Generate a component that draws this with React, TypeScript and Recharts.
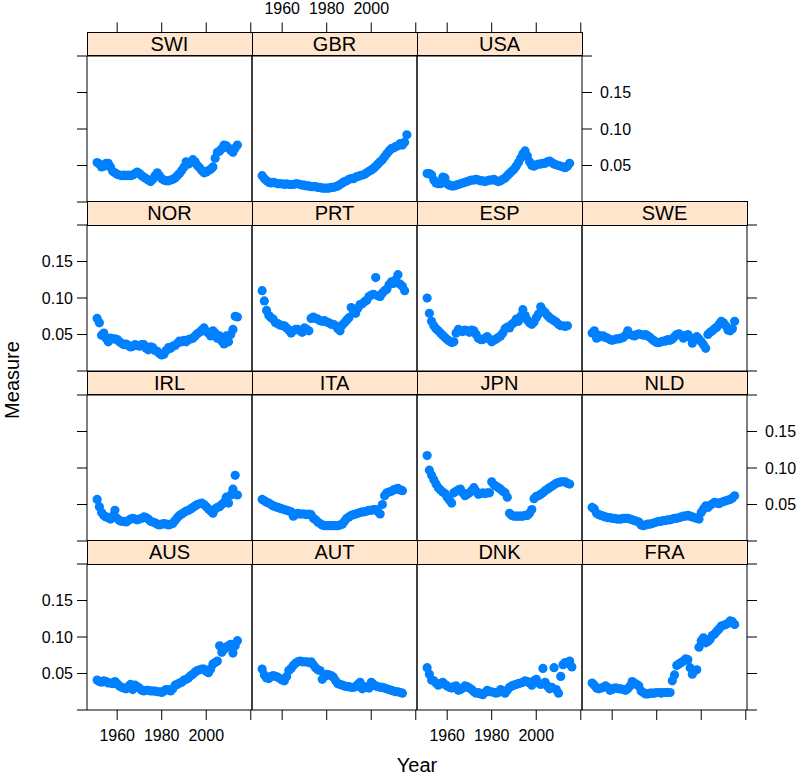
import React from "react";
import { ScatterChart, Scatter, XAxis, YAxis } from "recharts";

// years on the x axis; each country's values start at 1951
const YEARS = [
  1951, 1952, 1953, 1954, 1955, 1956, 1957, 1958, 1959, 1960,
  1961, 1962, 1963, 1964, 1965, 1966, 1967, 1968, 1969, 1970,
  1971, 1972, 1973, 1974, 1975, 1976, 1977, 1978, 1979, 1980,
  1981, 1982, 1983, 1984, 1985, 1986, 1987, 1988, 1989, 1990,
  1991, 1992, 1993, 1994, 1995, 1996, 1997, 1998, 1999, 2000,
  2001, 2002, 2003, 2004, 2005, 2006, 2007, 2008, 2009, 2010,
  2011, 2012, 2013, 2014, 2015, 2016,
];

const SWI = [
  0.054, 0.052, 0.048, 0.049, 0.053, 0.053, 0.048, 0.042, 0.040, 0.038,
  0.037, 0.036, 0.037, 0.036, 0.037, 0.036, 0.037, 0.039, 0.041, 0.039,
  0.036, 0.034, 0.032, 0.030, 0.028, 0.031, 0.036, 0.040, 0.036, 0.032,
  0.030, 0.029, 0.029, 0.030, 0.031, 0.033, 0.036, 0.039, 0.043, 0.048,
  0.055, 0.052, 0.054, 0.058, 0.055, 0.050, 0.047, 0.043, 0.040, 0.041,
  0.043, 0.045, 0.048, 0.060, 0.068, 0.070, 0.073, 0.078, 0.077, 0.074,
  0.071, 0.068, 0.074, 0.078,
];
const GBR = [
  0.036, 0.032, 0.029, 0.027, 0.026, 0.027, 0.026, 0.025, 0.025, 0.025,
  0.024, 0.025, 0.024, 0.024, 0.024, 0.025, 0.025, 0.024, 0.023, 0.023,
  0.022, 0.022, 0.021, 0.021, 0.021, 0.020, 0.020, 0.019, 0.019, 0.019,
  0.019, 0.020, 0.020, 0.021, 0.022, 0.024, 0.026, 0.028, 0.029, 0.031,
  0.032, 0.032, 0.034, 0.035, 0.036, 0.037, 0.038, 0.040, 0.042, 0.044,
  0.046, 0.049, 0.052, 0.055, 0.058, 0.062, 0.066, 0.070, 0.073, 0.074,
  0.076, 0.077, 0.080, 0.078, 0.082, 0.092,
];
const USA = [
  0.039, 0.039, 0.037, 0.030, 0.026, 0.025, 0.025, 0.034, 0.033, 0.025,
  0.023, 0.022, 0.022, 0.023, 0.024, 0.025, 0.026, 0.027, 0.028, 0.029,
  0.030, 0.030, 0.031, 0.030, 0.029, 0.029, 0.028, 0.029, 0.030, 0.030,
  0.031, 0.029, 0.028, 0.029, 0.031, 0.033, 0.036, 0.039, 0.042, 0.045,
  0.049, 0.054, 0.060, 0.066, 0.070, 0.063, 0.055, 0.050, 0.049, 0.051,
  0.052, 0.052, 0.053, 0.053, 0.055, 0.056, 0.054, 0.052, 0.051, 0.050,
  0.049, 0.048, 0.047, 0.049, 0.053,
];
const NOR = [
  0.072, 0.066, 0.049, 0.052, 0.045, 0.040, 0.045, 0.044, 0.044, 0.043,
  0.040, 0.038, 0.036, 0.037, 0.035, 0.033, 0.034, 0.036, 0.035, 0.034,
  0.036, 0.036, 0.031, 0.029, 0.033, 0.032, 0.028, 0.027, 0.024, 0.022,
  0.023, 0.028, 0.032, 0.031, 0.034, 0.035, 0.038, 0.041, 0.040, 0.042,
  0.040, 0.043, 0.044, 0.045, 0.048, 0.051, 0.053, 0.056, 0.059, 0.054,
  0.052, 0.048, 0.055, 0.052, 0.045, 0.048, 0.041, 0.037, 0.048, 0.040,
  0.050, 0.057, 0.075, 0.074,
];
const PRT = [
  0.110, 0.096, 0.083, 0.076, 0.073, 0.071, 0.066, 0.065, 0.063, 0.062,
  0.062, 0.059, 0.056, 0.052, 0.055, 0.057, 0.057, 0.055, 0.053, 0.059,
  0.057, 0.055, 0.072, 0.074, 0.072, 0.071, 0.069, 0.068, 0.069, 0.067,
  0.066, 0.064, 0.064, 0.062, 0.058, 0.055, 0.063, 0.066, 0.070, 0.073,
  0.087, 0.080, 0.079, 0.086, 0.091, 0.092, 0.095, 0.097, 0.102, 0.104,
  0.105, 0.128, 0.103, 0.102, 0.107, 0.110, 0.112, 0.118, 0.122, 0.120,
  0.125, 0.132, 0.119, 0.116, 0.110,
];
const ESP = [
  0.100, 0.079, 0.068, 0.062, 0.058, 0.055, 0.052, 0.049, 0.046, 0.043,
  0.041, 0.039, 0.040, 0.052, 0.057, 0.055, 0.054, 0.056, 0.055, 0.053,
  0.056, 0.055, 0.050, 0.045, 0.043, 0.043, 0.045, 0.047, 0.044, 0.040,
  0.042, 0.044, 0.046, 0.048, 0.052, 0.058, 0.060, 0.059, 0.064, 0.066,
  0.071, 0.068, 0.075, 0.084, 0.076, 0.070, 0.066, 0.064, 0.067, 0.073,
  0.078, 0.088, 0.083, 0.080, 0.076, 0.073, 0.071, 0.069, 0.067, 0.064,
  0.062, 0.062, 0.061, 0.062,
];
const SWE = [
  0.052, 0.055, 0.045, 0.049, 0.047, 0.048, 0.046, 0.045, 0.043, 0.042,
  0.043, 0.044, 0.044, 0.045, 0.046, 0.049, 0.055, 0.050, 0.049, 0.048,
  0.050, 0.051, 0.050, 0.049, 0.050, 0.048, 0.046, 0.043, 0.041, 0.039,
  0.039, 0.040, 0.041, 0.041, 0.043, 0.042, 0.044, 0.047, 0.050, 0.051,
  0.049, 0.045, 0.048, 0.050, 0.046, 0.038, 0.043, 0.047, 0.044, 0.040,
  0.036, 0.031, 0.050, 0.053, 0.055, 0.058, 0.060, 0.064, 0.068, 0.066,
  0.062, 0.056, 0.055, 0.058, 0.068,
];
const IRL = [
  0.057, 0.047, 0.039, 0.035, 0.033, 0.032, 0.030, 0.034, 0.042, 0.031,
  0.028, 0.027, 0.027, 0.026, 0.028, 0.030, 0.031, 0.030, 0.029, 0.030,
  0.031, 0.033, 0.032, 0.030, 0.027, 0.026, 0.025, 0.023, 0.022, 0.023,
  0.024, 0.023, 0.022, 0.023, 0.024, 0.028, 0.032, 0.035, 0.037, 0.039,
  0.041, 0.042, 0.044, 0.046, 0.048, 0.050, 0.051, 0.052, 0.050, 0.047,
  0.044, 0.041, 0.038, 0.044, 0.046, 0.047, 0.050, 0.053, 0.060, 0.052,
  0.063, 0.071, 0.090, 0.063,
];
const ITA = [
  0.057, 0.055, 0.053, 0.052, 0.050, 0.048, 0.047, 0.046, 0.045, 0.044,
  0.043, 0.042, 0.041, 0.040, 0.034, 0.036, 0.038, 0.037, 0.037, 0.037,
  0.036, 0.037, 0.036, 0.031, 0.029, 0.026, 0.024, 0.022, 0.021, 0.021,
  0.021, 0.021, 0.021, 0.021, 0.021, 0.022, 0.023, 0.027, 0.031, 0.033,
  0.035, 0.036, 0.037, 0.038, 0.039, 0.040, 0.040, 0.041, 0.042, 0.042,
  0.043, 0.043, 0.040, 0.037, 0.050, 0.062, 0.066, 0.067, 0.068, 0.070,
  0.071, 0.072, 0.070, 0.069,
];
const JPN = [
  0.117, 0.097, 0.090, 0.084, 0.078, 0.073, 0.070, 0.067, 0.065, 0.060,
  0.056, 0.052, 0.066, 0.068, 0.070, 0.071, 0.066, 0.062, 0.064, 0.066,
  0.069, 0.073, 0.068, 0.064, 0.065, 0.066, 0.065, 0.066, 0.066, 0.081,
  0.077, 0.075, 0.073, 0.071, 0.068, 0.066, 0.060, 0.038, 0.035, 0.034,
  0.034, 0.034, 0.034, 0.034, 0.035, 0.035, 0.038, 0.043, 0.058, 0.061,
  0.062, 0.064, 0.066, 0.069, 0.071, 0.073, 0.075, 0.077, 0.079, 0.080,
  0.081, 0.081, 0.081, 0.079, 0.078,
];
const NLD = [
  0.046, 0.044, 0.038, 0.036, 0.035, 0.034, 0.033, 0.032, 0.032, 0.031,
  0.031, 0.030, 0.030, 0.030, 0.031, 0.031, 0.031, 0.030, 0.029, 0.028,
  0.027, 0.026, 0.022, 0.021, 0.022, 0.023, 0.023, 0.024, 0.025, 0.026,
  0.027, 0.027, 0.028, 0.028, 0.029, 0.029, 0.030, 0.031, 0.031, 0.032,
  0.033, 0.034, 0.034, 0.035, 0.034, 0.033, 0.032, 0.031, 0.030, 0.039,
  0.044, 0.048, 0.046, 0.049, 0.051, 0.053, 0.052, 0.051, 0.053, 0.054,
  0.055, 0.056, 0.057, 0.059, 0.062,
];
const AUS = [
  0.041, 0.039, 0.038, 0.040, 0.039, 0.037, 0.037, 0.036, 0.039, 0.036,
  0.033, 0.031, 0.030, 0.029, 0.032, 0.035, 0.028, 0.034, 0.032, 0.030,
  0.027, 0.026, 0.027, 0.027, 0.026, 0.026, 0.026, 0.025, 0.025, 0.024,
  0.026, 0.028, 0.028, 0.026, 0.029, 0.034, 0.035, 0.037, 0.038, 0.041,
  0.042, 0.044, 0.047, 0.049, 0.052, 0.054, 0.055, 0.056, 0.056, 0.053,
  0.051, 0.056, 0.063, 0.065, 0.067, 0.088, 0.079, 0.083, 0.086, 0.088,
  0.090, 0.078, 0.088, 0.095,
];
const AUT = [
  0.056, 0.048, 0.044, 0.043, 0.046, 0.047, 0.046, 0.045, 0.043, 0.041,
  0.040, 0.046, 0.054, 0.057, 0.061, 0.064, 0.066, 0.067, 0.066, 0.066,
  0.066, 0.065, 0.066, 0.062, 0.058, 0.055, 0.054, 0.042, 0.046, 0.049,
  0.048, 0.047, 0.045, 0.040, 0.036, 0.035, 0.034, 0.033, 0.032, 0.032,
  0.031, 0.031, 0.032, 0.035, 0.038, 0.029, 0.032, 0.031, 0.030, 0.038,
  0.035, 0.033, 0.032, 0.031, 0.031, 0.030, 0.029, 0.028, 0.027, 0.026,
  0.025, 0.025, 0.024, 0.023,
];
const DNK = [
  0.058, 0.049, 0.041, 0.040, 0.037, 0.034, 0.036, 0.038, 0.035, 0.033,
  0.031, 0.030, 0.032, 0.033, 0.027, 0.028, 0.030, 0.033, 0.032, 0.030,
  0.028, 0.025, 0.023, 0.024, 0.022, 0.021, 0.024, 0.027, 0.025, 0.025,
  0.024, 0.023, 0.024, 0.028, 0.026, 0.023, 0.027, 0.031, 0.033, 0.034,
  0.035, 0.036, 0.037, 0.038, 0.040, 0.039, 0.037, 0.034, 0.040, 0.042,
  0.037, 0.035, 0.057, 0.038, 0.033, 0.029, 0.031, 0.058, 0.028, 0.023,
  0.046, 0.062, 0.065, 0.064, 0.067, 0.059,
];
const FRA = [
  0.037, 0.034, 0.030, 0.029, 0.030, 0.031, 0.033, 0.031, 0.027, 0.028,
  0.030, 0.030, 0.029, 0.029, 0.028, 0.027, 0.029, 0.033, 0.039, 0.037,
  0.035, 0.033, 0.026, 0.024, 0.022, 0.022, 0.023, 0.023, 0.023, 0.024,
  0.024, 0.023, 0.024, 0.024, 0.024, 0.024, 0.040, 0.048, 0.061, 0.063,
  0.065, 0.067, 0.070, 0.069, 0.058, 0.049, 0.054, 0.055, 0.086, 0.095,
  0.099, 0.092, 0.094, 0.097, 0.102, 0.104, 0.108, 0.111, 0.115, 0.116,
  0.117, 0.119, 0.122, 0.121, 0.117,
];

const SERIES: Record<string, number[]> = {
  SWI, GBR, USA, NOR, PRT, ESP, SWE, IRL, ITA, JPN, NLD, AUS, AUT, DNK, FRA,
};

// panel order, top row first (lattice fills from the bottom left)
const LAYOUT = [
  ["SWI", "GBR", "USA"],
  ["NOR", "PRT", "ESP", "SWE"],
  ["IRL", "ITA", "JPN", "NLD"],
  ["AUS", "AUT", "DNK", "FRA"],
];

const X_DOMAIN = [1946.45, 2020.55];
const X_TICKS = [1960, 1980, 2000, 2020];
const Y_DOMAIN = [0, 0.2];
const Y_TICKS = [0, 0.05, 0.1, 0.15, 0.2];

const FONT = '"Liberation Sans", Arial, Helvetica, sans-serif';
const DOT = "#0080ff";
const STRIP_BG = "#ffe5cc";

const COL_LEFT = 87;
const COL_W = 165;
const ROW_TOP = [32, 201.5, 371, 540.5];
const STRIP_H = 23.5;
const PANEL_H = 146;
const PAD_X = 60;
const PAD_TOP = 60;
const PAD_BOTTOM = 40;

const xLabel = (v: number) => (v === 2020 ? "" : String(v));
const yLabel = (v: number) => (v === 0 || v === 0.2 ? "" : v.toFixed(2));
const blank = () => "";

const Dot = (p: any) => <circle cx={p.cx} cy={p.cy} r={4.6} fill={DOT} />;

// top axis of the first row sits above the strip
const TopTick = (props: any) => {
  const { x, y, payload, showLabel } = props;
  const y0 = y - STRIP_H;
  return (
    <g>
      <line x1={x} x2={x} y1={y0} y2={y0 - 10} stroke="#000" />
      {showLabel && payload.value !== 2020 && (
        <text x={x} y={y0 - 18.5} textAnchor="middle" fontSize={16} fontFamily={FONT} fill="#000">
          {payload.value}
        </text>
      )}
    </g>
  );
};

function Panel({ name, row, col, nCols }: { name: string; row: number; col: number; nCols: number }) {
  const left = COL_LEFT + col * COL_W;
  const top = ROW_TOP[row] + STRIP_H;
  const isLeft = col === 0;
  const isRight = col === nCols - 1;
  const isTop = row === 0;
  const isBottom = row === LAYOUT.length - 1;
  const data = SERIES[name].map((v, i) => ({ year: YEARS[i], value: v }));
  const tickStyle = { fill: "#000", fontSize: 16, fontFamily: FONT };
  const line = { stroke: "#000" };

  return (
    <div style={{ position: "absolute", left: left - PAD_X, top: top - PAD_TOP }}>
      <ScatterChart
        width={COL_W + 2 * PAD_X}
        height={PANEL_H + PAD_TOP + PAD_BOTTOM}
        margin={{ top: 0, right: 0, bottom: 0, left: 0 }}
      >
        <XAxis
          xAxisId="b"
          dataKey="year"
          type="number"
          orientation="bottom"
          height={PAD_BOTTOM}
          domain={X_DOMAIN}
          ticks={X_TICKS}
          interval={0}
          allowDataOverflow
          axisLine={line}
          tickLine={isBottom ? line : false}
          tickSize={isBottom ? 10 : 0}
          tickMargin={10}
          tick={isBottom ? tickStyle : false}
          tickFormatter={isBottom && col % 2 === 0 ? xLabel : blank}
        />
        <XAxis
          xAxisId="t"
          dataKey="year"
          type="number"
          orientation="top"
          height={PAD_TOP}
          domain={X_DOMAIN}
          ticks={X_TICKS}
          interval={0}
          allowDataOverflow
          axisLine={line}
          tickLine={false}
          tickSize={0}
          tickMargin={0}
          tick={isTop ? (p: any) => <TopTick {...p} showLabel={col % 2 === 1} /> : false}
        />
        <YAxis
          yAxisId="l"
          dataKey="value"
          type="number"
          orientation="left"
          width={PAD_X}
          domain={Y_DOMAIN}
          ticks={Y_TICKS}
          interval={0}
          allowDataOverflow
          axisLine={line}
          tickLine={isLeft ? line : false}
          tickSize={isLeft ? 10 : 0}
          tickMargin={4}
          tick={isLeft ? tickStyle : false}
          tickFormatter={isLeft && row % 2 === 1 ? yLabel : blank}
        />
        <YAxis
          yAxisId="r"
          dataKey="value"
          type="number"
          orientation="right"
          width={PAD_X}
          domain={Y_DOMAIN}
          ticks={Y_TICKS}
          interval={0}
          allowDataOverflow
          axisLine={line}
          tickLine={isRight ? line : false}
          tickSize={isRight ? 10 : 0}
          tickMargin={8}
          tick={isRight ? tickStyle : false}
          tickFormatter={isRight && row % 2 === 0 ? yLabel : blank}
        />
        <Scatter
          xAxisId="b"
          yAxisId="l"
          data={data}
          fill={DOT}
          shape={Dot}
          isAnimationActive={false}
        />
      </ScatterChart>
    </div>
  );
}

function Strip({ name, row, col }: { name: string; row: number; col: number }) {
  return (
    <div
      style={{
        position: "absolute",
        left: COL_LEFT + col * COL_W - 0.5,
        top: ROW_TOP[row] - 0.5,
        width: COL_W + 1,
        height: STRIP_H + 1,
        boxSizing: "border-box",
        border: "1px solid #000",
        background: STRIP_BG,
        fontFamily: FONT,
        fontSize: 20,
        lineHeight: `${STRIP_H - 1}px`,
        textAlign: "center",
        color: "#000",
      }}
    >
      {name}
    </div>
  );
}

export default function App() {
  return (
    <div style={{ position: "absolute", left: 0, top: 0, width: 800, height: 776, background: "#fff", overflow: "hidden" }}>
      {LAYOUT.map((names, row) =>
        names.map((name, col) => (
          <Panel key={name} name={name} row={row} col={col} nCols={names.length} />
        ))
      )}
      {LAYOUT.map((names, row) =>
        names.map((name, col) => <Strip key={"s" + name} name={name} row={row} col={col} />)
      )}
      <svg width={800} height={776} style={{ position: "absolute", left: 0, top: 0, pointerEvents: "none" }}>
        <text
          x={417}
          y={772}
          textAnchor="middle"
          fontSize={20}
          fontFamily={FONT}
          fill="#000"
        >
          Year
        </text>
        <text
          transform="translate(19, 380) rotate(-90)"
          textAnchor="middle"
          fontSize={20}
          fontFamily={FONT}
          fill="#000"
        >
          Measure
        </text>
      </svg>
    </div>
  );
}
